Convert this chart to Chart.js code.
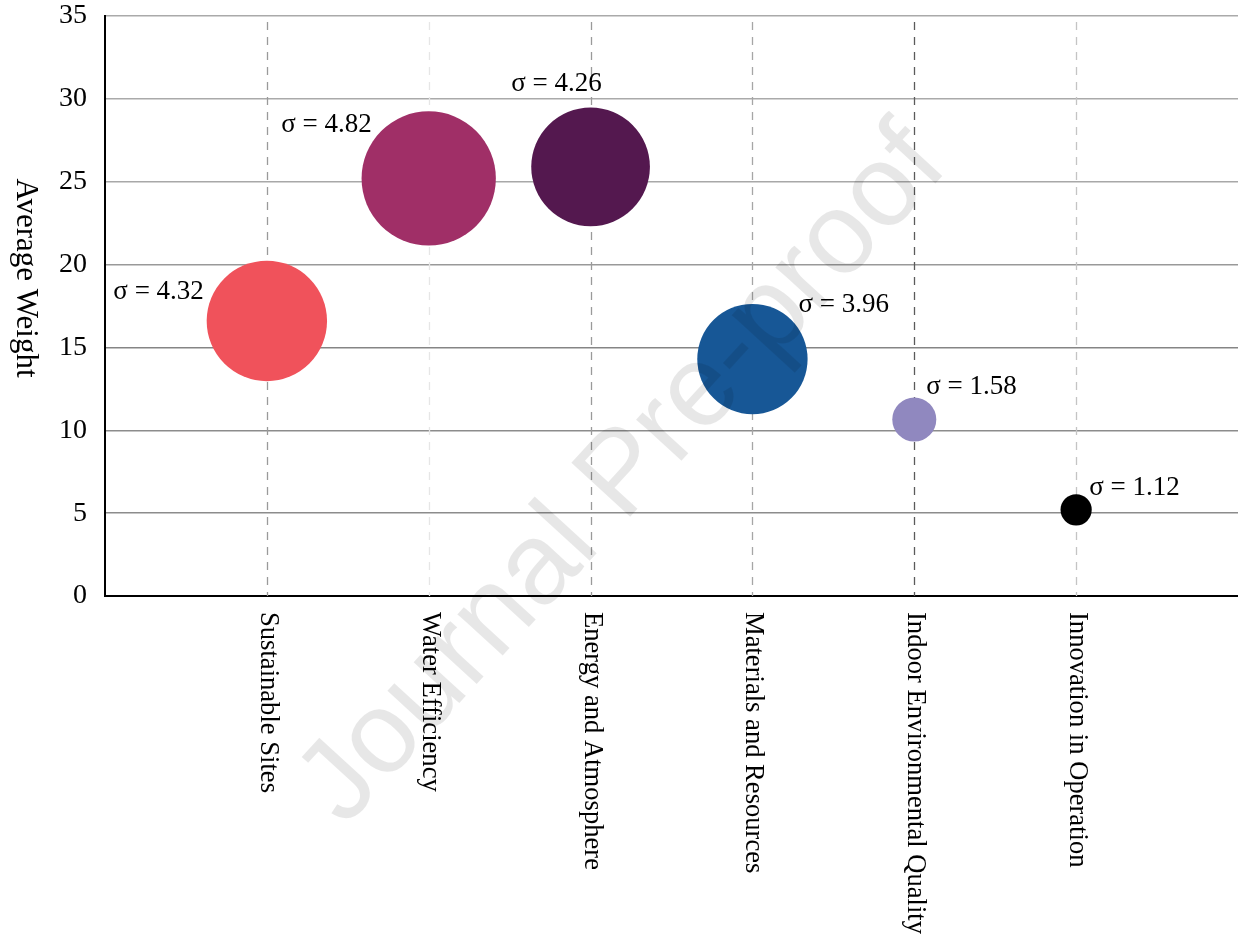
<!DOCTYPE html>
<html>
<head>
<meta charset="utf-8">
<script src="https://cdn.jsdelivr.net/npm/chart.js@4/dist/chart.umd.min.js"></script>
<style>
  html, body { margin: 0; padding: 0; background: #ffffff; }
  #wrap { width: 1238px; height: 935px; }
</style>
</head>
<body>
<div id="wrap"><canvas id="c" width="1238" height="935"></canvas></div>
<script>
// ---- data ----
const categories = ["Sustainable Sites", "Water Efficiency", "Energy and Atmosphere",
                    "Materials and Resources", "Indoor Environmental Quality", "Innovation in Operation"];
const averageWeight = [16.6, 25.2, 25.9, 14.3, 10.65, 5.2];
const sigma = [4.32, 4.82, 4.26, 3.96, 1.58, 1.12];
const yTicks = [0, 5, 10, 15, 20, 25, 30, 35];

// ---- styling ----
const bubbleColors = ["#F0525B", "#A02F67", "#54184F", "#175796", "#9088BF", "#000000"];
const vLineColors = ["#9a9a9a", "#e6e6e6", "#9a9a9a", "#a6a6a6", "#5a5a5a", "#c4c4c4"];
const hLineColors = { 0: "#888888", 5: "#8c8c8c", 10: "#8c8c8c", 15: "#858585", 20: "#999999", 25: "#a8a8a8", 30: "#aaaaaa", 35: "#aaaaaa" };
// label placement relative to bubble centre (pixels): [dx, dy(baseline), textAlign]
const labelPlacement = [
  [-63, -22, "right"],
  [-57, -46, "right"],
  [-34, -76, "center"],
  [46, -47, "left"],
  [12, -26, "left"],
  [13, -15, "left"]
];
const RADIUS_PER_SIGMA = 13.93;
const SERIF = "'Liberation Serif', 'Times New Roman', serif";

const points = categories.map((c, i) => ({ x: i + 1, y: averageWeight[i], r: sigma[i] * RADIUS_PER_SIGMA }));

const decorPlugin = {
  id: "decor",
  beforeDatasetsDraw(chart) {
    const ctx = chart.ctx, xs = chart.scales.x, area = chart.chartArea;
    ctx.save();
    ctx.lineWidth = 1.3;
    ctx.setLineDash([8, 7]);
    categories.forEach((c, i) => {
      const px = Math.round(xs.getPixelForValue(i + 1)) + 0.5;
      ctx.strokeStyle = vLineColors[i];
      ctx.beginPath();
      ctx.moveTo(px, area.top + 6);
      ctx.lineTo(px, area.bottom);
      ctx.stroke();
    });
    ctx.restore();
  },
  afterDraw(chart) {
    const ctx = chart.ctx, xs = chart.scales.x, area = chart.chartArea;
    ctx.save();
    // category labels, rotated clockwise
    ctx.fillStyle = "#000";
    ctx.font = "26.6px " + SERIF;
    ctx.textAlign = "left";
    ctx.textBaseline = "middle";
    categories.forEach((c, i) => {
      const px = xs.getPixelForValue(i + 1);
      ctx.save();
      ctx.translate(px + 1, area.bottom + 16);
      ctx.rotate(Math.PI / 2);
      ctx.fillText(c, 0, 0);
      ctx.restore();
    });
    // y axis title
    ctx.save();
    ctx.font = "31px " + SERIF;
    ctx.textAlign = "center";
    ctx.translate(25, 278);
    ctx.rotate(Math.PI / 2);
    ctx.fillText("Average Weight", 0, 0);
    ctx.restore();
    // sigma annotations
    ctx.font = "27px " + SERIF;
    ctx.textBaseline = "alphabetic";
    const meta = chart.getDatasetMeta(0);
    meta.data.forEach((el, i) => {
      const p = labelPlacement[i];
      ctx.textAlign = p[2];
      ctx.fillText("\u03C3 = " + sigma[i].toFixed(2), el.x + p[0], el.y + p[1]);
    });
    // watermark
    ctx.save();
    ctx.fillStyle = "rgba(0,0,0,0.095)";
    ctx.font = "116px 'Liberation Sans', Arial, sans-serif";
    ctx.textAlign = "center";
    ctx.textBaseline = "middle";
    ctx.translate(624, 476);
    ctx.rotate(-47.5 * Math.PI / 180);
    ctx.fillText("Journal Pre-proof", 0, 0);
    ctx.restore();
    ctx.restore();
  }
};

new Chart(document.getElementById("c"), {
  type: "bubble",
  data: {
    datasets: [{
      data: points,
      backgroundColor: bubbleColors,
      borderWidth: 0,
      hoverBorderWidth: 0,
      hoverRadius: 0,
      clip: false
    }]
  },
  options: {
    responsive: false,
    animation: false,
    devicePixelRatio: 1,
    events: [],
    layout: { autoPadding: false, padding: { top: 0, right: 0, left: 0, bottom: 0 } },
    plugins: { legend: { display: false }, tooltip: { enabled: false } },
    scales: {
      x: {
        type: "linear",
        min: 0,
        max: 7,
        ticks: { display: false, stepSize: 1 },
        grid: { display: false },
        border: { display: true, color: "#000", width: 2 },
        afterFit(scale) { scale.height = 339; }
      },
      y: {
        type: "linear",
        min: 0,
        max: 35,
        afterBuildTicks(scale) { scale.ticks = yTicks.map(v => ({ value: v })); },
        ticks: {
          color: "#000",
          font: { family: SERIF, size: 28, lineHeight: 1.15 },
          padding: 0
        },
        grid: {
          drawTicks: true,
          tickLength: 18,
          tickColor: "rgba(0,0,0,0)",
          lineWidth: 1.4,
          color: (ctx) => hLineColors[ctx.tick ? ctx.tick.value : 0] || "#999"
        },
        border: { display: true, color: "#000", width: 2 },
        afterFit(scale) { scale.width = 105; }
      }
    }
  },
  plugins: [decorPlugin]
});
</script>
</body>
</html>
